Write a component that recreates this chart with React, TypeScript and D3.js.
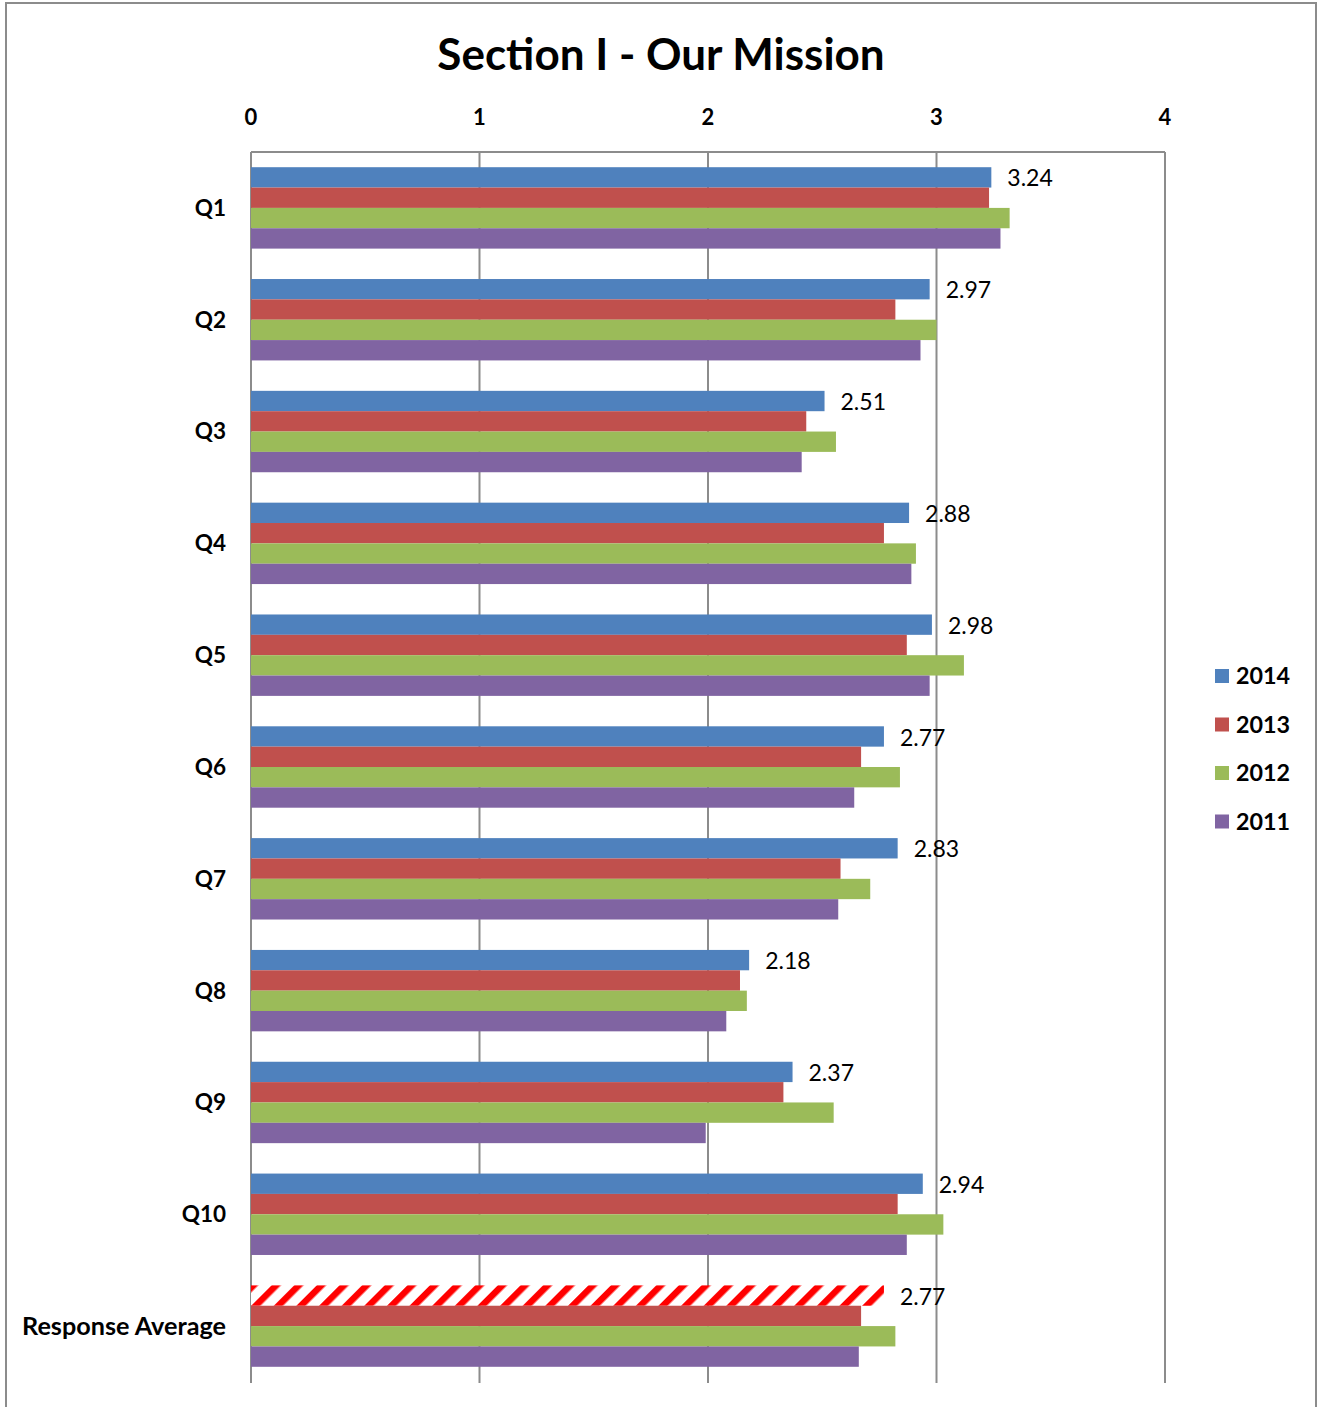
import React from "react";
import * as d3 from "d3";

// Survey questions, top to bottom
const categories = ["Q1", "Q2", "Q3", "Q4", "Q5", "Q6", "Q7", "Q8", "Q9", "Q10", "Response Average"];

// Survey years, drawn top to bottom inside each question group
const years = ["2014", "2013", "2012", "2011"];

const values2014 = [3.24, 2.97, 2.51, 2.88, 2.98, 2.77, 2.83, 2.18, 2.37, 2.94, 2.77];
const values2013 = [3.23, 2.82, 2.43, 2.77, 2.87, 2.67, 2.58, 2.14, 2.33, 2.83, 2.67];
const values2012 = [3.32, 3.0, 2.56, 2.91, 3.12, 2.84, 2.71, 2.17, 2.55, 3.03, 2.82];
const values2011 = [3.28, 2.93, 2.41, 2.89, 2.97, 2.64, 2.57, 2.08, 1.99, 2.87, 2.66];

const xTicks = [0, 1, 2, 3, 4];

const colors: Record<string, string> = {
  "2014": "#4f81bd",
  "2013": "#c0504d",
  "2012": "#9bbb59",
  "2011": "#8064a2",
};

const W = 1317;
const H = 1407;
const FONT = "Lato, 'Open Sans', sans-serif";

export default function App() {
  const seriesValues: Record<string, number[]> = {
    "2014": values2014,
    "2013": values2013,
    "2012": values2012,
    "2011": values2011,
  };

  const x = d3.scaleLinear().domain([0, 4]).range([251, 1165]);
  const y = d3
    .scaleBand<string>()
    .domain(categories)
    .range([152, 1382])
    .paddingInner(0.272)
    .paddingOuter(0.136);
  const ySub = d3.scaleBand<string>().domain(years).range([0, y.bandwidth()]);

  const lastCat = categories[categories.length - 1];

  return (
    <svg
      width={W}
      height={H}
      style={{ position: "absolute", left: 0, top: 0, background: "#fff" }}
      fontFamily={FONT}
    >
      <defs>
        <pattern id="avgHatch" patternUnits="userSpaceOnUse" width={16} height={16} patternTransform="rotate(45)">
          <rect width={16} height={16} fill="#fff" />
          <rect width={6.5} height={16} fill="#ff0000" />
        </pattern>
      </defs>

      <rect x={0} y={0} width={W} height={H} fill="#fff" />
      {/* chart frame */}
      <rect x={6} y={3} width={1310} height={H + 20} fill="none" stroke="#8c8c8c" strokeWidth={2} />

      <text x={661} y={70} textAnchor="middle" fontSize={44} fontWeight={700} fill="#000">
        Section I - Our Mission
      </text>

      {/* vertical gridlines */}
      {xTicks.map((t) => (
        <line key={"g" + t} x1={x(t)} x2={x(t)} y1={152} y2={1383} stroke="#8c8c8c" strokeWidth={2} />
      ))}
      {/* top axis line */}
      <line x1={x(0)} x2={x(4)} y1={152} y2={152} stroke="#8c8c8c" strokeWidth={2} />

      {xTicks.map((t) => (
        <text key={"t" + t} x={x(t)} y={125} textAnchor="middle" fontSize={22} fontWeight={700} fill="#000">
          {t}
        </text>
      ))}

      {/* bars */}
      {categories.map((c, i) => (
        <g key={c} transform={`translate(0,${y(c)})`}>
          {years.map((yr) => {
            const v = seriesValues[yr][i];
            const isAvgBlue = c === lastCat && yr === "2014";
            return (
              <rect
                key={yr}
                x={x(0)}
                y={ySub(yr)}
                width={x(v) - x(0)}
                height={ySub.bandwidth()}
                fill={isAvgBlue ? "url(#avgHatch)" : colors[yr]}
              />
            );
          })}
          <text
            x={x(values2014[i]) + 16}
            y={(ySub("2014") as number) + ySub.bandwidth() / 2 + 1}
            dy="0.35em"
            fontSize={23}
            fill="#000"
          >
            {values2014[i].toFixed(2)}
          </text>
        </g>
      ))}

      {/* category labels */}
      {categories.map((c) => (
        <text
          key={"c" + c}
          x={226}
          y={(y(c) as number) + y.bandwidth() / 2}
          dy="0.35em"
          textAnchor="end"
          fontSize={c === lastCat ? 25.2 : 22.5}
          fontWeight={700}
          fill="#000"
        >
          {c}
        </text>
      ))}

      {/* legend */}
      {years.map((yr, i) => (
        <g key={"l" + yr} transform={`translate(1215,${676 + i * 48.5})`}>
          <rect x={0} y={-7} width={14} height={14} fill={colors[yr]} />
          <text x={21} y={0} dy="0.35em" fontSize={23.3} fontWeight={700} fill="#000">
            {yr}
          </text>
        </g>
      ))}
    </svg>
  );
}
